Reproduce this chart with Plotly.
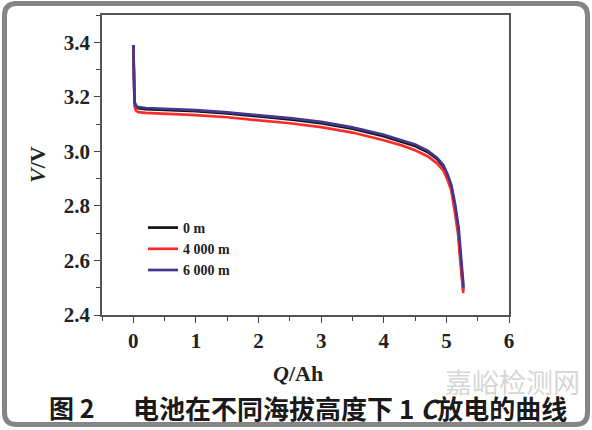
import plotly.graph_objects as go

# ---- data ----
q_0m = [0, 0.005, 0.01, 0.02, 0.04, 0.08, 0.2, 0.5, 1.0, 1.5, 2.0, 2.5, 3.0, 3.5, 4.0, 4.3, 4.5, 4.7, 4.85, 4.95, 5.02, 5.08, 5.135, 5.19, 5.23, 5.27]
v_0m = [3.39, 3.31, 3.23, 3.18, 3.165, 3.158, 3.155, 3.152, 3.147, 3.139, 3.128, 3.117, 3.103, 3.083, 3.056, 3.036, 3.02, 2.998, 2.972, 2.945, 2.91, 2.87, 2.798, 2.71, 2.60, 2.49]

q_4000m = [0, 0.005, 0.01, 0.02, 0.04, 0.08, 0.2, 0.5, 1.0, 1.5, 2.0, 2.5, 3.0, 3.5, 4.0, 4.3, 4.5, 4.7, 4.85, 4.95, 5.02, 5.08, 5.13, 5.185, 5.225, 5.27]
v_4000m = [3.38, 3.29, 3.21, 3.165, 3.15, 3.144, 3.141, 3.138, 3.133, 3.125, 3.114, 3.103, 3.089, 3.069, 3.041, 3.021, 3.004, 2.982, 2.956, 2.93, 2.895, 2.855, 2.785, 2.70, 2.59, 2.48]

q_6000m = [0, 0.005, 0.01, 0.02, 0.04, 0.08, 0.2, 0.5, 1.0, 1.5, 2.0, 2.5, 3.0, 3.5, 4.0, 4.3, 4.5, 4.7, 4.85, 4.95, 5.02, 5.08, 5.14, 5.195, 5.235, 5.275]
v_6000m = [3.39, 3.31, 3.23, 3.182, 3.168, 3.162, 3.159, 3.156, 3.151, 3.143, 3.133, 3.122, 3.108, 3.088, 3.061, 3.041, 3.025, 3.003, 2.977, 2.95, 2.915, 2.875, 2.805, 2.72, 2.61, 2.50]

series_names = ["0 m", "4 000 m", "6 000 m"]
x_tickvals = [0, 1, 2, 3, 4, 5, 6]
y_tickvals = [2.4, 2.6, 2.8, 3.0, 3.2, 3.4]

caption_fig = "图 2"
caption_text = "电池在不同海拔高度下 1 <i>C</i>放电的曲线"
watermark = "嘉峪检测网"

# ---- layout constants (pixels) ----
W, H = 592, 430
PL, PR, PT, PB = 102, 509, 15, 315  # plot area


def px(xp):
    return (xp - PL) / (PR - PL)


def py(yp):
    return (PB - yp) / (PB - PT)


SERIF = "Liberation Serif, Times New Roman, serif"
CJK = "Noto Sans CJK SC, sans-serif"

fig = go.Figure()
colors = ["#121212", "#ff2b2b", "#41378f"]
for name, q, v, c in zip(series_names, [q_0m, q_4000m, q_6000m], [v_0m, v_4000m, v_6000m], colors):
    fig.add_trace(go.Scatter(x=q, y=v, mode="lines", name=f"<b>{name}</b>",
                             line=dict(color=c, width=2.7)))

axis_common = dict(showline=True, linecolor="#555555", linewidth=1.5, mirror=True,
                   ticks="outside", ticklen=6, tickwidth=1.3, tickcolor="#444444",
                   showgrid=False, zeroline=False,
                   tickfont=dict(family=SERIF, size=21, color="#222222"))

fig.update_xaxes(range=[-0.5, 6], tickvals=x_tickvals,
                 ticktext=[f"<b>{t}</b>" for t in x_tickvals],
                 minor=dict(dtick=0.5, ticks="outside", ticklen=4, tickcolor="#444444"),
                 **axis_common)
fig.update_yaxes(range=[2.4, 3.5], tickvals=y_tickvals,
                 ticktext=[f"<b>{t:.1f}</b>" for t in y_tickvals],
                 minor=dict(dtick=0.1, tick0=2.4, ticks="outside", ticklen=4, tickcolor="#444444"),
                 **axis_common)

# rounded outer frame
L, R, T, B, r = 4.5, 587.5, 3.5, 424.5, 12
path = (f"M {px(L + r)},{py(T)} L {px(R - r)},{py(T)} Q {px(R)},{py(T)} {px(R)},{py(T + r)} "
        f"L {px(R)},{py(B - r)} Q {px(R)},{py(B)} {px(R - r)},{py(B)} "
        f"L {px(L + r)},{py(B)} Q {px(L)},{py(B)} {px(L)},{py(B - r)} "
        f"L {px(L)},{py(T + r)} Q {px(L)},{py(T)} {px(L + r)},{py(T)} Z")
fig.add_shape(type="path", path=path, xref="paper", yref="paper",
              line=dict(color="#858585", width=5))

annotations = [
    dict(text="<b><i>V</i>/V</b>", x=px(37), y=py(165), textangle=-90,
         font=dict(family=SERIF, size=22, color="#222222")),
    dict(text="<b><i>Q</i>/Ah</b>", x=px(298), y=py(373),
         font=dict(family=SERIF, size=22, color="#222222")),
    dict(text=watermark, x=px(512), y=py(381),
         font=dict(family=CJK, size=27, color="#d6d6d6")),
    dict(text=f"<b>{caption_fig}</b>", x=px(47), y=py(407), xanchor="left",
         font=dict(family=CJK, size=25, color="#1a1a1a")),
    dict(text=f"<b>{caption_text}</b>", x=px(131), y=py(407), xanchor="left",
         font=dict(family=CJK, size=26, color="#1a1a1a")),
]
for a in annotations:
    a.setdefault("xanchor", "center")
    fig.add_annotation(xref="paper", yref="paper", showarrow=False, yanchor="middle", **a)

fig.update_layout(
    width=W, height=H,
    margin=dict(l=PL, r=W - PR, t=PT, b=H - PB),
    paper_bgcolor="white", plot_bgcolor="white",
    showlegend=True,
    legend=dict(x=px(143), y=py(212), xanchor="left", yanchor="top",
                bgcolor="rgba(0,0,0,0)", borderwidth=0,
                font=dict(family=SERIF, size=14, color="#222222"),
                tracegroupgap=0, itemwidth=30),
)

fig.write_html("out.html", config={"displayModeBar": False},
               post_script="document.body.style.margin='0';document.body.style.overflow='hidden';")
